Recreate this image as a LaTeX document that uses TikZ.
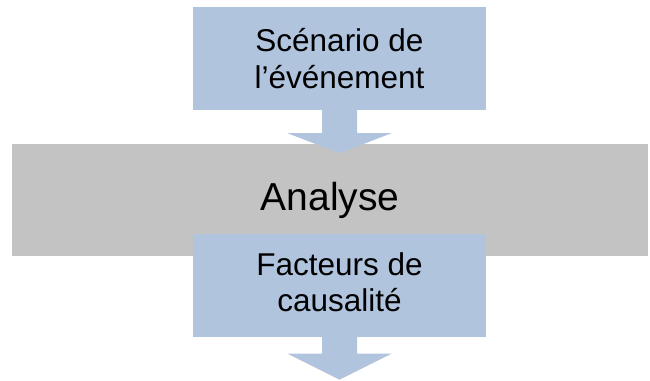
\documentclass[tikz,border=0pt]{standalone}
\usepackage{fontspec}
\setmainfont{Liberation Sans}
\usetikzlibrary{calc}
\definecolor{boxblue}{RGB}{176,196,222}
\definecolor{bandgray}{RGB}{195,195,195}
\tikzset{
  bluebox/.style={fill=boxblue, draw=none, minimum width=293pt, minimum height=103pt,
    inner sep=0pt, align=center, font=\fontsize{31.5}{37}\selectfont},
  band/.style={fill=bandgray, draw=none, minimum width=636pt, minimum height=112pt,
    inner sep=0pt, font=\fontsize{39}{44}\selectfont},
  blockarrow/.style={fill=boxblue, draw=none}
}
\begin{document}
\begin{tikzpicture}[x=1pt,y=-1pt]
\useasboundingbox (0,0) rectangle (650,380);
\node[band] (ana) at (330,200) {Analyse};
\node[bluebox] (top) at (339.5,58.5) {Scénario de\\l’événement};
\node[bluebox] (bot) at (339.5,285) {};
\node[align=center, inner sep=0pt, font=\fontsize{31.5}{36}\selectfont] (bottext) at (339.5,282) {Facteurs de\\causalité};
\coordinate (tip1) at ($(top.south)+(0,43)$);
\coordinate (tip2) at ($(bot.south)+(0,43)$);
\fill[blockarrow] ($(top.south)+(-17.5,0)$) -- ($(top.south)+(17.5,0)$)
  -- ($(top.south)+(17.5,23)$) -- ($(top.south)+(52,23)$) -- (tip1)
  -- ($(top.south)+(-52,23)$) -- ($(top.south)+(-17.5,23)$) -- cycle;
\fill[blockarrow] ($(bot.south)+(-17.5,0)$) -- ($(bot.south)+(17.5,0)$)
  -- ($(bot.south)+(17.5,17)$) -- ($(bot.south)+(52,17)$) -- (tip2)
  -- ($(bot.south)+(-52,17)$) -- ($(bot.south)+(-17.5,17)$) -- cycle;
\end{tikzpicture}
\end{document}
